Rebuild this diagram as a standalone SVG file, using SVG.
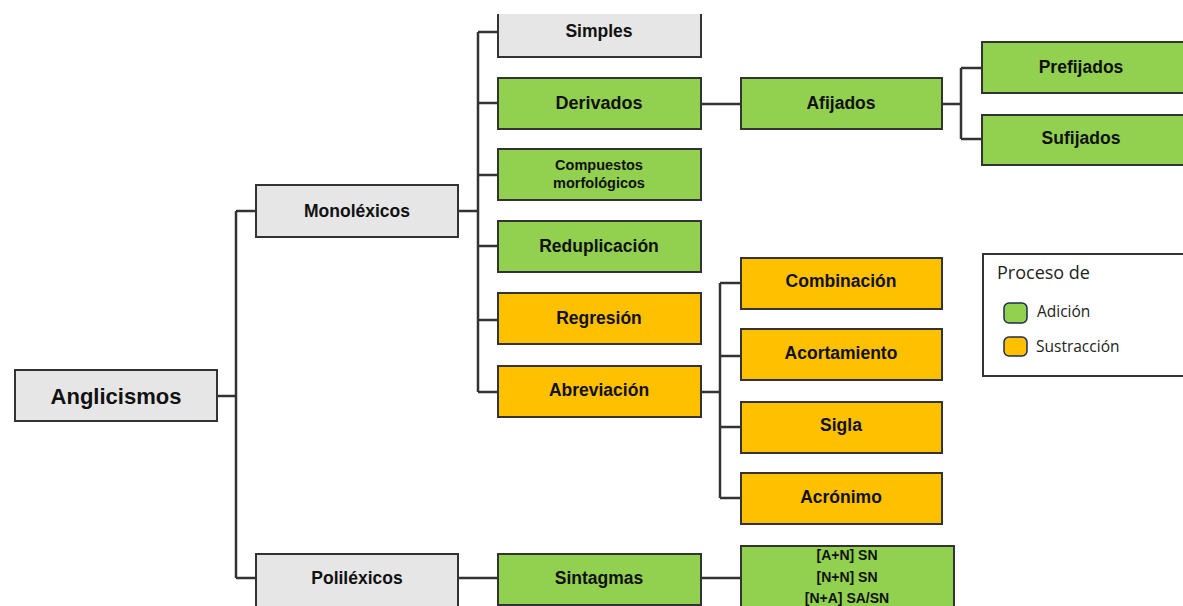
<svg xmlns="http://www.w3.org/2000/svg" width="1183" height="606" viewBox="0 0 1183 606">
<style>
.box{stroke:#333;stroke-width:2}
.g{fill:#92D050}.o{fill:#FFC000}.n{fill:#E7E6E6}
.t{font-family:"Liberation Sans",Arial,sans-serif;font-weight:bold;fill:#111;text-anchor:middle;dominant-baseline:central}
.c{fill:none;stroke:#333;stroke-width:2.5}
.lt{font-family:"Open Sans","Liberation Sans",sans-serif;fill:#222}
</style>
<rect width="1183" height="606" fill="#fff"/>
<g id="connectors">
<path class="c" d="M217 396H236M236 211V578M236 211H256M236 578H256"/>
<path class="c" d="M458 211H478M478 32V392M478 32H498M478 103H498M478 175H498M478 246H498M478 320H498M478 392H498"/>
<path class="c" d="M701 104H741M942 104H961M961 68V139M961 68H982M961 139H982"/>
<path class="c" d="M701 392H720M720 283V498M720 283H741M720 356H741M720 427H741M720 498H741"/>
<path class="c" d="M458 578H498M701 578H741"/>
</g>
<g id="anglicismos"><rect class="box n" x="15" y="370" width="202" height="51"/><text class="t" x="116" y="396" font-size="22">Anglicismos</text></g>
<g id="monolexicos"><rect class="box n" x="256" y="185" width="202" height="52"/><text class="t" x="357" y="211" font-size="17.5">Monoléxicos</text></g>
<g id="polilexicos"><rect class="box n" x="256" y="554" width="202" height="54"/><text class="t" x="357" y="578" font-size="17.5">Poliléxicos</text></g>
<g id="simples"><rect class="n" x="498" y="14" width="203" height="43"/><path class="box" fill="none" d="M498 14V57H701V14"/><text class="t" x="599" y="31" font-size="17.5">Simples</text></g>
<g id="derivados"><rect class="box g" x="498" y="78" width="203" height="51"/><text class="t" x="599" y="103" font-size="18">Derivados</text></g>
<g id="compuestos"><rect class="box g" x="498" y="149" width="203" height="51"/><text class="t" x="599" y="165" font-size="14.5">Compuestos</text><text class="t" x="599" y="183" font-size="14.5">morfológicos</text></g>
<g id="reduplicacion"><rect class="box g" x="498" y="221" width="203" height="51"/><text class="t" x="599" y="246" font-size="17.5">Reduplicación</text></g>
<g id="regresion"><rect class="box o" x="498" y="293" width="203" height="51"/><text class="t" x="599" y="318" font-size="17.5">Regresión</text></g>
<g id="abreviacion"><rect class="box o" x="498" y="366" width="203" height="51"/><text class="t" x="599" y="390" font-size="17.5">Abreviación</text></g>
<g id="sintagmas"><rect class="box g" x="498" y="554" width="203" height="51"/><text class="t" x="599" y="578" font-size="17.5">Sintagmas</text></g>
<g id="afijados"><rect class="box g" x="741" y="78" width="201" height="51"/><text class="t" x="841" y="103" font-size="17.5">Afijados</text></g>
<g id="prefijados"><rect class="box g" x="982" y="42" width="203" height="51"/><text class="t" x="1081" y="67" font-size="17.5">Prefijados</text></g>
<g id="sufijados"><rect class="box g" x="982" y="115" width="203" height="50"/><text class="t" x="1081" y="138" font-size="17.5">Sufijados</text></g>
<g id="combinacion"><rect class="box o" x="741" y="258" width="201" height="51"/><text class="t" x="841" y="281" font-size="17.5">Combinación</text></g>
<g id="acortamiento"><rect class="box o" x="741" y="329" width="201" height="51"/><text class="t" x="841" y="353" font-size="17.5">Acortamiento</text></g>
<g id="sigla"><rect class="box o" x="741" y="402" width="201" height="51"/><text class="t" x="841" y="425" font-size="17.5">Sigla</text></g>
<g id="acronimo"><rect class="box o" x="741" y="473" width="201" height="51"/><text class="t" x="841" y="497" font-size="17.5">Acrónimo</text></g>
<g id="sn"><rect class="box g" x="741" y="546" width="213" height="64"/><text class="t" x="847" y="555" font-size="14">[A+N] SN</text><text class="t" x="847" y="577" font-size="14">[N+N] SN</text><text class="t" x="847" y="598" font-size="14">[N+A] SA/SN</text></g>
<g id="legend">
<rect x="983" y="254" width="210" height="122" fill="#fff" stroke="#333" stroke-width="2"/>
<text class="lt" x="997" y="279" font-size="18">Proceso de</text>
<rect x="1004" y="303" width="23" height="20" rx="5" fill="#92D050" stroke="#1F2D4D" stroke-width="1.5"/>
<text class="lt" x="1037" y="317" font-size="15.5">Adición</text>
<rect x="1004" y="337" width="23" height="19" rx="5" fill="#FFC000" stroke="#1F2D4D" stroke-width="1.5"/>
<text class="lt" x="1036" y="352" font-size="15.5">Sustracción</text>
</g>
</svg>
